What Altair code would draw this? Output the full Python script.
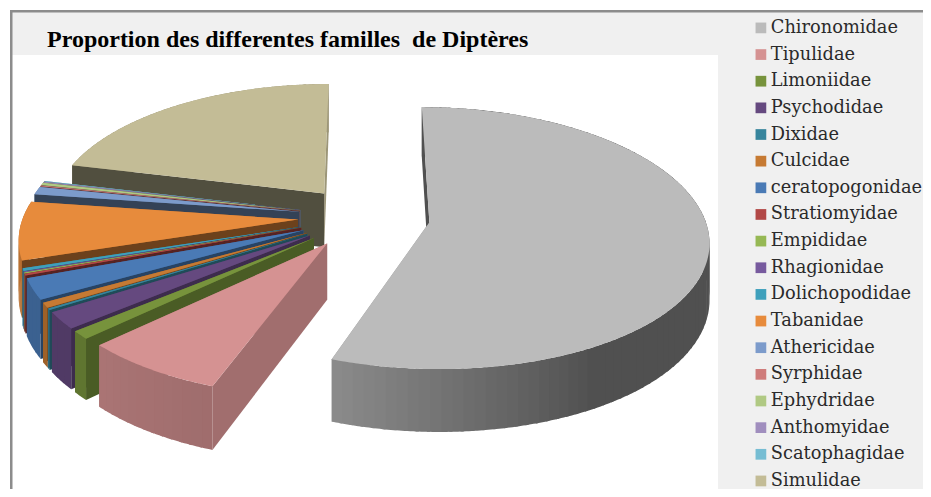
import numpy as np
import altair as alt

TITLE = "Proportion des differentes familles\u00a0 de Diptères"
families = ["Chironomidae", "Tipulidae", "Limoniidae", "Psychodidae", "Dixidae", "Culcidae",
            "ceratopogonidae", "Stratiomyidae", "Empididae", "Rhagionidae", "Dolichopodidae",
            "Tabanidae", "Athericidae", "Syrphidae", "Ephydridae", "Anthomyidae",
            "Scatophagidae", "Simulidae"]
shares = [55.5, 7.3, 1.0, 2.1, 0.2, 0.6, 2.6, 0.2, 0.1, 0.1, 0.35, 7.2, 0.95, 0.1, 0.3, 0.1, 0.1, 21.2]
colors = ["#bbbbbb", "#d59292", "#77933c", "#65497f", "#37859d", "#c67a33", "#4a7ab5", "#b24846",
          "#96b854", "#775a9e", "#3fa0bc", "#e78b3c", "#7c9bcb", "#cf7c7b", "#b0c983", "#a08ebe",
          "#76bdd3", "#c3bc96"]

# view of the tilted pie (page pixels)
CX, CY, RX, RY, PERSP, PERSP_X, DEPTH, EXPLODE = 364, 217, 275, 127.8, 0.12, 0.13, 55, 0.24


def project(t_deg, r, mid_deg, lower=False):
    t, m = np.radians(t_deg), np.radians(mid_deg)
    u = EXPLODE * np.sin(m) + r * np.sin(t)
    v = -EXPLODE * np.cos(m) - r * np.cos(t)
    s = 1 / (1 - PERSP * v)
    sx = 1 / (1 - PERSP_X * v)
    return [float(CX + RX * u * sx), float(CY + (RY * v + (DEPTH if lower else 0)) * s)]


def shade(hex_color, f):
    rgb = [int(hex_color[i:i + 2], 16) for i in (1, 3, 5)]
    return "#" + "".join(f"{int(c * f):02x}" for c in rgb)


def outer_factor(t):
    return float(np.interp(t, [0, 150, 200, 225, 360], [0.43, 0.43, 0.75, 0.8, 0.8]))


def wall_factor(t):
    return float(np.interp(t, [0, 1, 199, 226, 240, 255, 284], [0.43, 0.43, 0.76, 0.63, 0.55, 0.45, 0.42]))


def feature(points, fill, name):
    ring = points + [points[0]]
    return {"type": "Feature", "properties": {"fill": fill, "family": name},
            "geometry": {"type": "Polygon", "coordinates": [ring]}}


def wall(t, mid, fill, name):
    return feature([project(t, 0, mid), project(t, 1, mid),
                    project(t, 1, mid, True), project(t, 0, mid, True)], fill, name)


total = sum(shares)
edges = np.concatenate([[0], np.cumsum(shares) / total * 360])
features = []
for i in range(len(families) - 1, -1, -1):
    a, b = float(edges[i]), float(edges[i + 1])
    mid = (a + b) / 2
    name, col = families[i], colors[i]
    # far radial wall
    features.append(wall(b, mid, shade(col, 0.8), name))
    # rim, in narrow overlapping strips so its shade can vary
    n = max(1, int((b - a) / 2))
    steps = np.linspace(a, b, n + 1)
    for s0, s1 in zip(steps[:-1], steps[1:]):
        s0, s1 = float(s0), float(s1)
        end = min(b, s1 + 0.6)
        curve = [float(x) for x in np.linspace(s0, end, 6)]
        features.append(feature([project(x, 1, mid) for x in curve] +
                                [project(x, 1, mid, True) for x in reversed(curve)],
                                shade(col, outer_factor((s0 + s1) / 2)), name))
    # near radial wall
    features.append(wall(a, mid, shade(col, wall_factor(a)), name))
    # top face
    arc = np.linspace(a, b, max(2, int(b - a) * 2 + 2))
    features.append(feature([project(0, 0, mid)] + [project(float(t), 1, mid) for t in arc], col, name))


def box(x, x2, y, y2, color):
    return alt.Chart(alt.Data(values=[{"a": 1}])).mark_rect(color=color).encode(
        x=alt.value(x), x2=alt.value(x2), y=alt.value(y), y2=alt.value(y2))


panel = box(2, 915, 2, 481, "#f0f0f0")
plot_bg = box(4, 710, 47, 481, "#ffffff")
border_top = box(2, 915, 2, 4.5, "#8c8c8c")
border_left = box(2, 4.5, 2, 481, "#8c8c8c")

pie = alt.Chart(alt.Data(values=features)).mark_geoshape(strokeWidth=0).encode(
    color=alt.Color("properties.fill:N", scale=None),
).project(type="identity", scale=1, translate=[-8, -8])

legend_layer = alt.Chart(alt.Data(values=[{"family": f} for f in families])).mark_square(size=0).encode(
    x=alt.value(0), y=alt.value(0),
    color=alt.Color("family:N", scale=alt.Scale(domain=families, range=colors), sort=None,
                    legend=alt.Legend(orient="none", legendX=744, legendY=11, title=None, padding=0,
                                      symbolType="square", symbolSize=115, symbolStrokeWidth=0,
                                      symbolOpacity=1, labelFont="DejaVu Serif", labelFontSize=17.8,
                                      labelColor="#2a2a2a", labelLimit=200, labelOffset=1,
                                      rowPadding=7.65, values=families)))

title = alt.Chart(alt.Data(values=[{"t": TITLE}])).mark_text(
    font="Liberation Serif", fontWeight="bold", fontSize=24, align="left", baseline="alphabetic",
    color="#000000").encode(x=alt.value(39), y=alt.value(39), text="t:N")

chart = alt.layer(panel, plot_bg, border_top, border_left, pie, title, legend_layer).properties(
    width=915, height=481, padding=0, background="white",
    autosize=alt.AutoSizeParams(type="none"),
).configure_view(stroke=None)

chart.save("out.html", embed_options={"renderer": "svg", "actions": False})
